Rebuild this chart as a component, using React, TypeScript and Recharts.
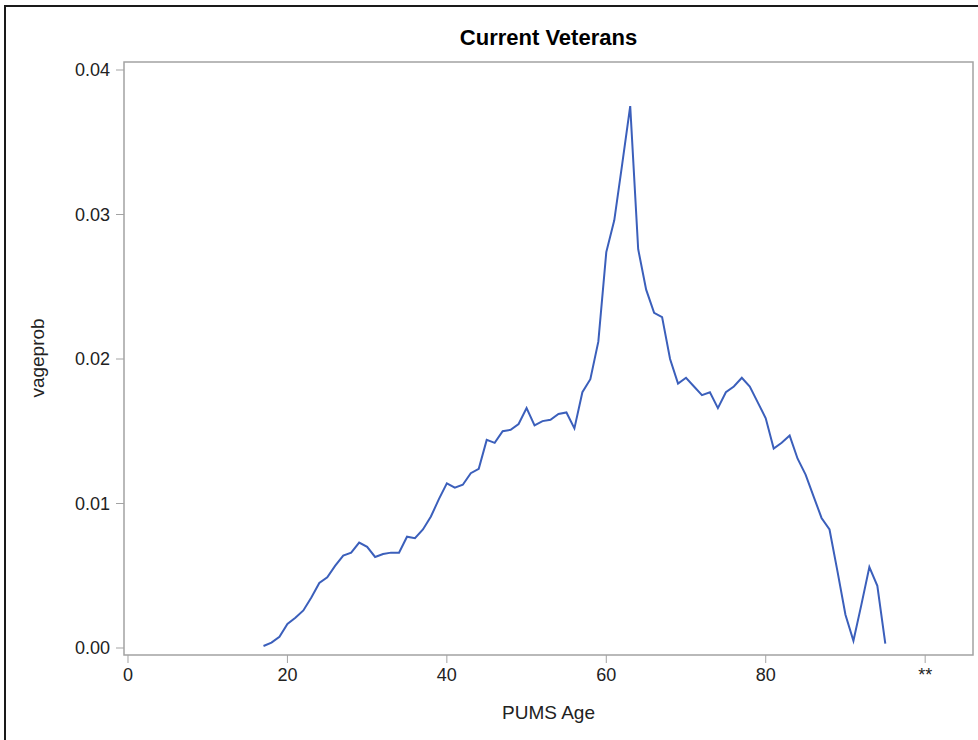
import { LineChart, Line, XAxis, YAxis, ReferenceArea } from "recharts";

// PUMS age (single years) and the share of current veterans at each age
const ages = [
  17, 18, 19, 20, 21, 22, 23, 24, 25, 26, 27, 28, 29, 30, 31, 32, 33, 34, 35, 36,
  37, 38, 39, 40, 41, 42, 43, 44, 45, 46, 47, 48, 49, 50, 51, 52, 53, 54, 55, 56,
  57, 58, 59, 60, 61, 62, 63, 64, 65, 66, 67, 68, 69, 70, 71, 72, 73, 74, 75, 76,
  77, 78, 79, 80, 81, 82, 83, 84, 85, 86, 87, 88, 89, 90, 91, 92, 93, 94, 95,
];
const vageprob = [
  0.00014, 0.00037, 0.00078, 0.00166, 0.0021, 0.0026, 0.0035, 0.0045, 0.0049, 0.0057,
  0.0064, 0.0066, 0.0073, 0.007, 0.0063, 0.0065, 0.0066, 0.0066, 0.0077, 0.0076,
  0.0082, 0.0091, 0.0103, 0.0114, 0.0111, 0.0113, 0.0121, 0.0124, 0.0144, 0.0142,
  0.015, 0.0151, 0.0155, 0.0166, 0.0154, 0.0157, 0.0158, 0.0162, 0.0163, 0.0152,
  0.0177, 0.0186, 0.0212, 0.0274, 0.0296, 0.0335, 0.0375, 0.0276, 0.0248, 0.0232,
  0.0229, 0.02, 0.0183, 0.0187, 0.0181, 0.0175, 0.0177, 0.0166, 0.0177, 0.0181,
  0.0187, 0.0181, 0.017, 0.0159, 0.0138, 0.0142, 0.0147, 0.0131, 0.012, 0.0105,
  0.009, 0.0082, 0.0053, 0.0023, 0.0005, 0.003, 0.0056, 0.0043, 0.0003,
];

const xTicks = [0, 20, 40, 60, 80, 100];
const yTicks = [0, 0.01, 0.02, 0.03, 0.04];

const xDomain: [number, number] = [-0.5, 106];
const yDomain: [number, number] = [-0.000484, 0.040554];

const font = "'Liberation Sans', Arial, sans-serif";
const frameColor = "#a3a3a3";

export default function App() {
  const data = ages.map((age, i) => ({ age, vageprob: vageprob[i] }));

  return (
    <div style={{ position: "absolute", left: 0, top: 0, width: 978, height: 740, background: "#fff", overflow: "hidden", fontFamily: font }}>
      {/* outer frame of the exported graph */}
      <div style={{ position: "absolute", left: 4, top: 5, width: 1000, height: 1000, borderLeft: "2px solid #1a1a1a", borderTop: "2px solid #1a1a1a" }} />

      <div style={{ position: "absolute", left: 124, width: 849, top: 25, textAlign: "center", fontSize: 22, fontWeight: "bold", color: "#000" }}>
        Current Veterans
      </div>

      <LineChart width={978} height={740} data={data} margin={{ top: 62, right: 5, bottom: 55, left: 64 }}>
        <XAxis
          dataKey="age"
          type="number"
          domain={xDomain}
          ticks={xTicks}
          allowDataOverflow
          height={30}
          axisLine={false}
          tickLine={{ stroke: frameColor }}
          tickSize={8}
          tickMargin={5}
          tick={{ fontSize: 18, fill: "#222", fontFamily: font }}
          tickFormatter={(v: number) => (v === 100 ? "**" : String(v))}
        />
        <YAxis
          type="number"
          domain={yDomain}
          ticks={yTicks}
          allowDataOverflow
          width={60}
          axisLine={false}
          tickLine={{ stroke: frameColor }}
          tickSize={8}
          tickMargin={6}
          tick={{ fontSize: 18, fill: "#222", fontFamily: font }}
          tickFormatter={(v: number) => v.toFixed(2)}
        />
        <ReferenceArea
          x1={xDomain[0]}
          x2={xDomain[1]}
          y1={yDomain[0]}
          y2={yDomain[1]}
          fill="none"
          stroke={frameColor}
          strokeWidth={1.5}
          ifOverflow="visible"
        />
        <Line
          type="linear"
          dataKey="vageprob"
          stroke="#3b5fbb"
          strokeWidth={2}
          dot={false}
          isAnimationActive={false}
        />
      </LineChart>

      <div style={{ position: "absolute", left: 124, width: 849, top: 702, textAlign: "center", fontSize: 19, color: "#222" }}>
        PUMS Age
      </div>
      <div
        style={{
          position: "absolute",
          left: 38,
          top: 358,
          fontSize: 19,
          color: "#222",
          whiteSpace: "nowrap",
          transform: "translate(-50%, -50%) rotate(-90deg)",
        }}
      >
        vageprob
      </div>
    </div>
  );
}
